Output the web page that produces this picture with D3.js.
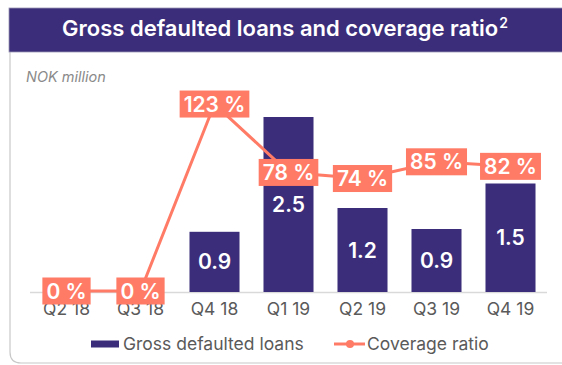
<!DOCTYPE html>
<html>
<head>
<meta charset="utf-8">
<script src="https://cdn.jsdelivr.net/npm/d3@7"></script>
<style>
  body { margin: 0; background: #fff; }
  svg { display: block; font-family: Inter, "Open Sans", sans-serif; }
</style>
</head>
<body>
<svg width="562" height="365"></svg>
<script>
const quarters = ["Q2 18", "Q3 18", "Q4 18", "Q1 19", "Q2 19", "Q3 19", "Q4 19"];
const defaultedLoans = [null, null, 0.86, 2.5, 1.2, 0.9, 1.55];
const loanLabels = ["", "", "0.9", "2.5", "1.2", "0.9", "1.5"];
const coverageRatio = [0, 0, 123, 78, 74, 85, 82];

const purple = "#3b2d7a";
const salmon = "#ff7b66";

const svg = d3.select("svg");

// panel frame
svg.append("path")
    .attr("d", "M10,52 L10,352 Q10,363 21,363 L562,363")
    .attr("fill", "none")
    .attr("stroke", "#c8c8c8")
    .attr("stroke-width", 1.2);

// title bar
svg.append("rect")
    .attr("x", 9).attr("y", 8)
    .attr("width", 560).attr("height", 44)
    .attr("fill", purple)
    .attr("stroke", "#9a96b4")
    .attr("stroke-width", 0.8);

const title = svg.append("text")
    .attr("x", 285).attr("y", 35.5)
    .attr("text-anchor", "middle")
    .attr("fill", "#fff")
    .attr("font-size", 22)
    .attr("font-weight", 600)
    .text("Gross defaulted loans and coverage ratio");
title.append("tspan")
    .attr("font-size", 14)
    .attr("dx", 1)
    .attr("dy", -8)
    .text("2");

svg.append("text")
    .attr("x", 26).attr("y", 82)
    .attr("fill", "#8a8a8a")
    .attr("font-size", 14.5)
    .attr("font-style", "italic")
    .text("NOK million");

const x = d3.scaleBand()
    .domain(quarters)
    .range([29.5, 547.5])
    .paddingInner(0.324)
    .paddingOuter(0.162);

const y = d3.scaleLinear().domain([0, 3]).range([292, 82]);
const y2 = d3.scaleLinear().domain([0, 150]).range([291, 63]);

// baseline
svg.append("line")
    .attr("x1", 30).attr("x2", 547)
    .attr("y1", 292.5).attr("y2", 292.5)
    .attr("stroke", "#d9d9d9")
    .attr("stroke-width", 1.5);

// x axis labels
const axisX = d3.axisBottom(x).tickSize(0).tickPadding(10);
const gx = svg.append("g")
    .attr("transform", "translate(0,293)")
    .call(axisX);
gx.select(".domain").remove();
gx.selectAll("text")
    .attr("font-family", "Inter, sans-serif")
    .attr("font-size", 17.5)
    .attr("fill", "#5a5a5a");

const barData = quarters.map((q, i) => ({ q, v: defaultedLoans[i], label: loanLabels[i] }))
    .filter(d => d.v !== null);

svg.selectAll("rect.bar")
    .data(barData)
    .enter()
    .append("rect")
    .attr("class", "bar")
    .attr("x", d => x(d.q))
    .attr("y", d => y(d.v))
    .attr("width", x.bandwidth())
    .attr("height", d => y(0) - y(d.v))
    .attr("fill", purple);

svg.selectAll("text.barlabel")
    .data(barData)
    .enter()
    .append("text")
    .attr("class", "barlabel")
    .attr("x", d => x(d.q) + x.bandwidth() / 2)
    .attr("y", d => (y(d.v) + y(0)) / 2)
    .attr("dy", "0.36em")
    .attr("text-anchor", "middle")
    .attr("fill", "#fff")
    .attr("font-size", 21)
    .attr("font-weight", 600)
    .text(d => d.label);

// coverage line
const lineData = quarters.map((q, i) => ({ q, v: coverageRatio[i] }));
const line = d3.line()
    .x(d => x(d.q) + x.bandwidth() / 2)
    .y(d => y2(d.v));

svg.append("path")
    .datum(lineData)
    .attr("fill", "none")
    .attr("stroke", salmon)
    .attr("stroke-width", 3)
    .attr("d", line);

const labels = svg.selectAll("g.cov")
    .data(lineData)
    .enter()
    .append("g")
    .attr("class", "cov")
    .attr("transform", d => `translate(${x(d.q) + x.bandwidth() / 2},${y2(d.v)})`);

labels.append("text")
    .attr("text-anchor", "middle")
    .attr("dy", "0.36em")
    .attr("fill", "#fff")
    .attr("font-size", 21)
    .attr("font-weight", 600)
    .text(d => d.v + " %")
    .each(function() {
        const b = this.getBBox();
        d3.select(this.parentNode).insert("rect", "text")
            .attr("x", b.x - 4)
            .attr("y", -13.5)
            .attr("width", b.width + 8)
            .attr("height", 27)
            .attr("fill", salmon);
    });

// legend
const legend = svg.append("g").attr("transform", "translate(0,344)");
legend.append("rect")
    .attr("x", 91).attr("y", -3.5)
    .attr("width", 28).attr("height", 7)
    .attr("fill", purple);
legend.append("text")
    .attr("x", 123).attr("dy", "0.36em")
    .attr("fill", "#5a5a5a")
    .attr("font-size", 17.5)
    .text("Gross defaulted loans");
legend.append("line")
    .attr("x1", 334).attr("x2", 365)
    .attr("stroke", salmon)
    .attr("stroke-width", 3);
legend.append("circle")
    .attr("cx", 350).attr("r", 4)
    .attr("fill", salmon);
legend.append("text")
    .attr("x", 367).attr("dy", "0.36em")
    .attr("fill", "#5a5a5a")
    .attr("font-size", 17.5)
    .text("Coverage ratio");
</script>
</body>
</html>
